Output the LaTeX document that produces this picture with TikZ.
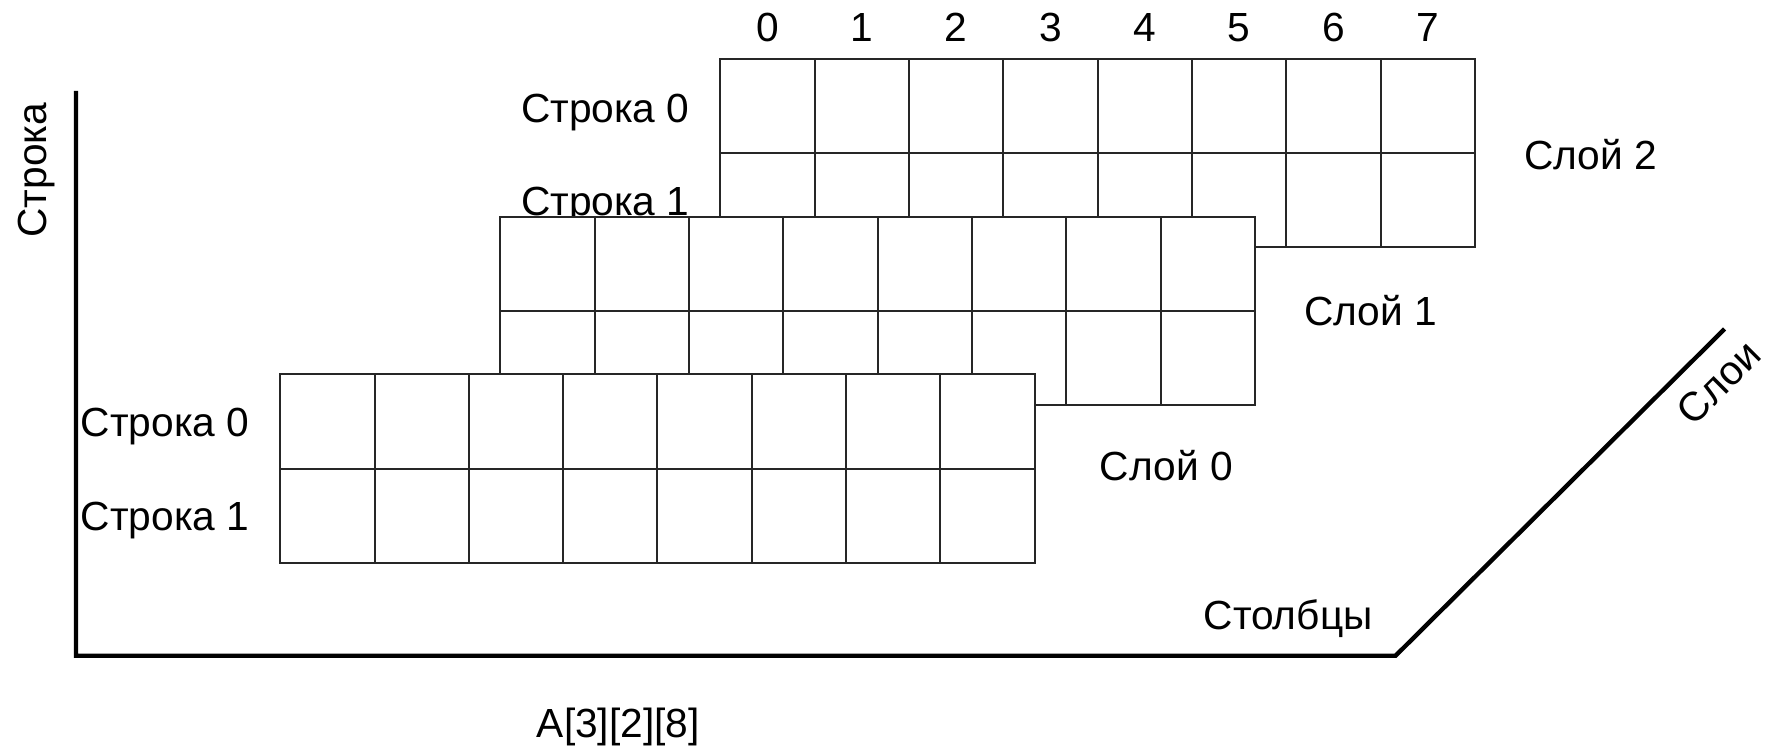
\documentclass[tikz,border=0pt]{standalone}
\usepackage{fontspec}
\setmainfont{Liberation Sans}
\usetikzlibrary{positioning}
\tikzset{
  cell/.style={draw=black!85, line width=0.5pt},
  layer fill/.style={fill=white},
  axis line/.style={black, line width=1.1pt},
  caption/.style={font=\fontsize{10.2}{12}\selectfont, inner sep=1pt}
}

\begin{document}
\begin{tikzpicture}[x=0.01cm, y=-0.01cm]

  % Page frame of the reference.
  \useasboundingbox (0,0) rectangle (1568,663);

  % Axes of the array.
  \coordinate (axTop) at (67,80);
  \coordinate (axO) at (67,578);
  \coordinate (axCol) at (1230,578);
  \coordinate (axLay) at (1520,290);
  \draw[axis line] (axTop) -- (axO) -- (axCol) -- (axLay);

  \node[caption, rotate=90] (axRowLbl) at (32,150) {Строка};
  \node[caption, anchor=south east] (axColLbl) at (1214,566) {Столбцы};
  \node[caption, rotate=45] (axLayLbl) at (1515,337) {Слои};
  \node[caption] (arrName) at (545,641) {A[3][2][8]};

  % Layer 2 (back).
  \begin{scope}[shift={(635,52)}]
    \fill[layer fill] (0,0) rectangle (665,166);
    \foreach \c in {0,...,7}
      \foreach \r in {0,1}
        \draw[cell] (\c*83.125,\r*83) rectangle ++(83.125,83);
    \foreach \c in {0,...,7}
      \node[caption] (colNum\c) at (\c*83.125+41.5,-28) {\c};
  \end{scope}
  \node[caption, anchor=east] (rowA0) at (612,99) {Строка 0};
  \node[caption, anchor=east] (rowA1) at (612,181) {Строка 1};
  \node[caption] (layTwo) at (1402,136) {Слой 2};

  % Layer 1 (middle), covers part of layer 2.
  \begin{scope}[shift={(441,191)}]
    \fill[layer fill] (0,0) rectangle (665,166);
    \foreach \c in {0,...,7}
      \foreach \r in {0,1}
        \draw[cell] (\c*83.125,\r*83) rectangle ++(83.125,83);
  \end{scope}
  \node[caption] (layOne) at (1208,274) {Слой 1};

  % Layer 0 (front).
  \begin{scope}[shift={(247,330)}]
    \fill[layer fill] (0,0) rectangle (665,166);
    \foreach \c in {0,...,7}
      \foreach \r in {0,1}
        \draw[cell] (\c*83.125,\r*83) rectangle ++(83.125,83);
  \end{scope}
  \node[caption, anchor=east] (rowB0) at (224,376) {Строка 0};
  \node[caption, anchor=east] (rowB1) at (224,459) {Строка 1};
  \node[caption] (layZero) at (1028,410) {Слой 0};

\end{tikzpicture}
\end{document}
